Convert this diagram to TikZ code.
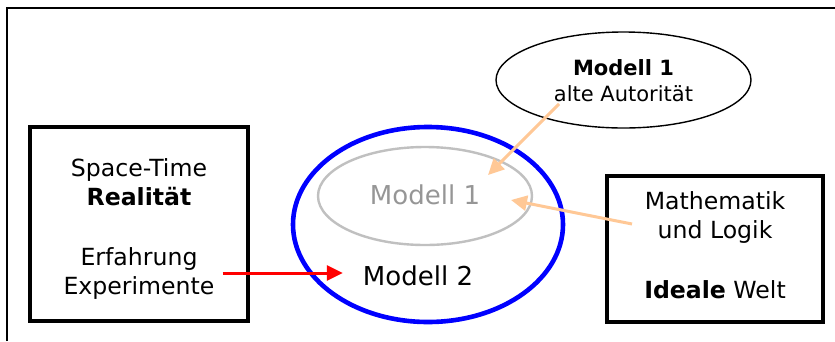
\documentclass[tikz,border=0pt]{standalone}
\usepackage{fontspec}
\setmainfont{DejaVu Sans}
\usetikzlibrary{arrows.meta,shapes.geometric}
\definecolor{peach}{RGB}{255,200,150}
\definecolor{lgray}{RGB}{192,192,192}
\definecolor{tgray}{RGB}{150,150,150}
\tikzset{
  boxstyle/.style={draw=black, line width=3.2pt, minimum width=#1, inner sep=0pt},
  txt/.style={align=center, inner sep=0pt, font=\fontsize{23.6}{29}\selectfont},
  bigtxt/.style={inner sep=0pt, font=\fontsize{26}{30}\selectfont},
  peacharrow/.style={draw=peach, line width=3pt, -{Triangle[length=16pt,width=15pt]}},
  redarrow/.style={draw=red, line width=3pt, -{Triangle[length=16pt,width=15pt]}},
}
\begin{document}
\begin{tikzpicture}[x=1pt,y=-1pt]
\useasboundingbox (0,0) rectangle (835,341);
\fill[white] (0,0) rectangle (835,341);
% frame
\draw[line width=2pt] (7,341) -- (7,8) -- (835,8);
% left box
\node[boxstyle=218pt, minimum height=194pt] (lbox) at (139,224) {};
\node[txt] (st) at (139,182) {Space-Time\\\textbf{Realität}};
\node[txt] (exp) at (139,273) {Erfahrung\\Experimente};
% right box
\node[boxstyle=216pt, minimum height=146pt] (rbox) at (715,249) {};
\node[txt] (math) at (715,217) {Mathematik\\und Logik};
\node[txt] (ideal) at (715,290) {\textbf{Ideale} Welt};
% ellipses
\node[ellipse, draw=blue, line width=4.6pt, minimum width=270pt, minimum height=195pt] (blue) at (428,224.5) {};
\node[ellipse, draw=lgray, line width=2.4pt, minimum width=214pt, minimum height=98pt] (gray) at (425,196) {};
\node[bigtxt, text=tgray] (m1) at (425,195) {Modell 1};
\node[bigtxt] (m2) at (418,276) {Modell 2};
\node[ellipse, draw=black, line width=1.4pt, minimum width=255pt, minimum height=96pt] (top) at (623.5,80) {};
\node[txt, font=\fontsize{21}{26}\selectfont] (auth) at (623.5,81) {\textbf{Modell 1}\\alte Autorität};
% arrows
\coordinate (a1s) at (559,104);
\coordinate (a1e) at (488,175);
\coordinate (a2s) at (632,224);
\coordinate (a2e) at (511,200);
\draw[peacharrow] (a1s) -- (a1e);
\draw[peacharrow] (a2s) -- (a2e);
\draw[redarrow] ([xshift=8pt]exp.east) -- ([xshift=-20pt]exp.east -| m2.west);
\end{tikzpicture}
\end{document}
